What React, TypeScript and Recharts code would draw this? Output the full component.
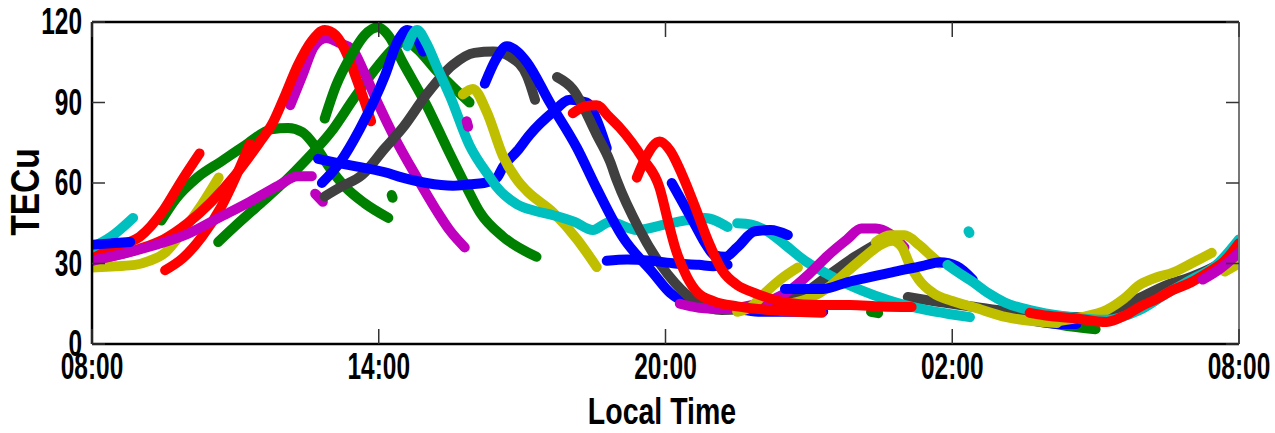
import { Line, LineChart, XAxis, YAxis } from "recharts";

type Pt = [number, number];

// hours since 00:00 of day 1 (08:00 -> 8, next-day 08:00 -> 32)
const HOUR_TICKS = [8, 14, 20, 26, 32];
const TEC_TICKS = [0, 30, 60, 90, 120];

// one array per satellite pass: [local hour, TECu]
const yellow1: Pt[] = [[8.0, 28.5], [8.5, 29], [8.9, 29.5], [9.2, 31], [9.53, 34], [9.9, 42], [10.3, 52], [10.65, 62]];
const yellow2: Pt[] = [[15.76, 93], [15.97, 95], [16.26, 86.5], [16.6, 70], [16.9, 61], [17.1, 57], [17.65, 49], [18.15, 39], [18.56, 28.7]];
const yellow3: Pt[] = [[21.5, 12], [21.8, 14], [22.08, 19], [22.4, 24], [22.77, 28.5]];
const yellow4: Pt[] = [[22.6, 15], [23.0, 17], [23.4, 21], [23.8, 27], [24.2, 33], [24.5, 37], [24.75, 38.5], [24.95, 36], [25.1, 30], [25.3, 24], [25.6, 19], [26.0, 16], [26.43, 13.8], [27.14, 10], [28.19, 7.8]];
const yellow5: Pt[] = [[24.4, 38], [24.7, 40.5], [25.0, 40.5], [25.3, 37], [25.55, 33], [25.74, 30]];
const yellow6: Pt[] = [[28.2, 8.5], [28.7, 10], [29.23, 12.7], [29.6, 17], [29.92, 22], [30.3, 25], [30.6, 26.5], [31.0, 30], [31.43, 34]];
const yellow7: Pt[] = [[31.7, 27], [32.0, 30]];

const green1: Pt[] = [[9.45, 46], [9.75, 54], [10.2, 62], [10.7, 68], [11.2, 74], [11.75, 80], [12.1, 80.5], [12.4, 79], [12.7, 73], [13.0, 65], [13.3, 58.5], [13.7, 52.5], [14.2, 47]];
const green2: Pt[] = [[10.64, 38], [11.0, 44], [11.5, 52], [12.0, 60], [12.5, 69], [13.0, 79], [13.5, 92], [14.0, 104], [14.3, 110], [14.55, 113], [14.8, 110], [15.2, 102], [15.6, 95], [15.9, 90]];
const green3: Pt[] = [[12.87, 84], [13.1, 96], [13.44, 108], [13.7, 115], [13.98, 118], [14.2, 115], [14.5, 105], [15.0, 89], [15.43, 73], [15.85, 58], [16.12, 49], [16.6, 40], [17.3, 32.5]];
const green4: Pt[] = [[14.27, 55.5], [14.29, 54.5]];
const green5: Pt[] = [[24.3, 12], [24.45, 11.5]];
const green6: Pt[] = [[28.0, 8], [28.5, 6.5], [29.0, 5.5]];

const magenta1: Pt[] = [[8.0, 31], [8.5, 33], [9.25, 36.5], [10.0, 41], [10.65, 47], [11.3, 53], [11.9, 59], [12.3, 62.5], [12.6, 62.5]];
const magenta2: Pt[] = [[12.15, 89], [12.4, 100], [12.65, 111], [12.9, 114], [13.2, 112], [13.44, 110], [13.7, 101], [14.0, 89], [14.3, 78], [14.8, 62], [15.2, 50], [15.5, 42], [15.8, 36]];
const magenta3: Pt[] = [[12.67, 56], [12.83, 53]];
const magenta4: Pt[] = [[15.84, 83], [15.87, 81]];
const magenta5: Pt[] = [[20.3, 15], [20.7, 13.5], [21.2, 13], [21.8, 14.5], [22.3, 17], [22.6, 20], [23.0, 26], [23.4, 33], [23.8, 39], [24.1, 43], [24.4, 43], [24.7, 41], [25.0, 36]];
const magenta6: Pt[] = [[31.24, 24], [31.6, 28], [32.0, 34]];

const red1: Pt[] = [[8.0, 34], [8.5, 36.5], [9.0, 40], [9.5, 50], [9.88, 61], [10.25, 71]];
const red2: Pt[] = [[8.0, 31.5], [8.5, 33], [9.0, 35.5], [9.5, 39], [10.0, 45], [10.5, 53], [11.0, 63], [11.5, 75], [11.77, 82], [12.0, 91], [12.31, 104], [12.6, 113], [12.87, 117], [13.1, 115], [13.36, 107], [13.55, 98], [13.71, 90], [13.84, 83]];
const red3: Pt[] = [[9.53, 27.5], [9.9, 32], [10.3, 40], [10.7, 51], [11.0, 62], [11.3, 74.5]];
const red4: Pt[] = [[18.06, 86], [18.3, 88.5], [18.56, 89], [18.8, 85], [19.05, 80.5], [19.53, 69], [19.88, 58], [20.05, 46], [20.2, 36], [20.45, 25], [20.68, 19], [21.0, 16], [21.5, 14], [22.3, 12.5], [23.27, 11.6]];
const red5: Pt[] = [[19.4, 62], [19.6, 70], [19.88, 75.5], [20.1, 72], [20.35, 63], [20.6, 52], [20.9, 38], [21.18, 27.6], [21.5, 22], [21.87, 19], [22.56, 15.3], [23.2, 14.5], [23.86, 14.5], [24.5, 14], [25.15, 13.8]];
const red6: Pt[] = [[27.62, 11.6], [28.0, 10.5], [28.52, 9.7], [29.23, 8.2], [29.6, 10.5], [29.92, 13.8], [30.3, 17], [30.6, 20], [31.0, 23], [31.33, 26.5], [31.7, 31], [32.0, 37.6]];

const blue1: Pt[] = [[8.0, 37], [8.4, 37.5], [8.8, 38]];
const blue2: Pt[] = [[12.81, 60], [13.2, 68], [13.6, 80], [14.13, 100], [14.4, 113], [14.6, 117], [14.8, 114], [14.93, 109]];
const blue3: Pt[] = [[12.73, 69], [13.0, 68], [13.44, 66.5], [14.13, 64], [14.5, 62], [15.0, 60], [15.55, 59], [15.9, 59.5], [16.2, 60], [16.47, 62], [16.6, 66], [16.9, 72], [17.16, 78], [17.65, 86.5], [18.0, 91], [18.35, 90], [18.55, 84], [18.77, 73]];
const blue4: Pt[] = [[16.22, 97], [16.45, 106], [16.68, 111], [16.9, 109], [17.1, 105], [17.58, 90], [18.15, 73], [18.56, 58], [19.1, 40], [19.74, 26.5], [20.1, 19], [20.5, 15], [21.0, 13.5], [21.5, 13], [22.0, 12], [22.5, 12], [23.3, 12]];
const blue5: Pt[] = [[20.13, 60], [20.35, 53], [20.6, 45], [20.85, 37], [21.03, 33], [21.25, 32.5], [21.5, 36], [21.87, 42], [22.2, 42.5], [22.56, 40.6]];
const blue6: Pt[] = [[18.77, 31], [19.2, 31.5], [19.7, 31], [20.2, 30], [20.7, 29.5], [21.0, 29], [21.3, 29.5]];
const blue7: Pt[] = [[22.5, 20.5], [23.3, 20.5], [23.8, 23], [24.3, 25], [24.8, 27], [25.36, 29], [25.74, 30.5], [26.1, 29], [26.43, 24]];
const blue8: Pt[] = [[27.6, 9], [28.2, 7.5], [28.6, 7.5]];

const cyan1: Pt[] = [[8.0, 36], [8.4, 40], [8.86, 47]];
const cyan2: Pt[] = [[14.6, 111], [14.8, 117], [15.0, 112], [15.2, 104], [15.5, 92], [15.9, 74], [16.33, 62], [16.47, 58.5], [16.9, 52], [17.3, 49.5], [17.65, 48], [18.1, 45.5], [18.48, 42.5], [18.84, 45.5], [19.4, 42.5], [20.1, 45], [20.82, 47], [21.3, 43.6]];
const cyan3: Pt[] = [[21.5, 45], [21.8, 44.5], [22.08, 42.5], [22.5, 37], [22.92, 31], [23.3, 27], [23.6, 24], [24.1, 20], [24.65, 16.4], [25.5, 12.5], [26.0, 11], [26.37, 10]];
const cyan4: Pt[] = [[25.9, 29.5], [26.1, 27], [26.4, 23.5], [26.75, 19], [27.1, 15.5], [27.8, 12], [28.5, 10], [29.2, 9], [29.9, 12.5], [30.5, 19], [31.0, 24], [31.5, 29], [32.0, 39]];
const cyan5: Pt[] = [[26.34, 42], [26.36, 41.4]];

const gray1: Pt[] = [[12.87, 55], [13.2, 58.5], [13.65, 63], [14.13, 73], [14.5, 80.5], [15.0, 93], [15.55, 104], [16.0, 108.5], [16.4, 109], [16.75, 107], [17.1, 100], [17.27, 91]];
const gray2: Pt[] = [[17.73, 99.5], [18.06, 95], [18.56, 78], [18.84, 68], [18.98, 61], [19.46, 42.5], [19.88, 30], [20.2, 22.7], [20.68, 15.3], [21.18, 12.7], [21.87, 13.4], [22.43, 15.3], [22.9, 19], [23.48, 26.5], [23.96, 32.5], [24.38, 37]];
const gray3: Pt[] = [[25.07, 17.5], [25.6, 16], [26.4, 14], [27.2, 12], [28.0, 10.5], [28.7, 10], [29.3, 12], [29.9, 17], [30.5, 22], [31.0, 25], [31.5, 29], [32.0, 35]];

const RED = "#ff0000";
const BLUE = "#0000ff";
const GREEN = "#008000";
const MAGENTA = "#bf00bf";
const CYAN = "#00bfbf";
const YELLOW = "#bfbf00";
const GRAY = "#404040";

// drawing order: first entry ends up at the bottom
const TRACKS: { id: string; color: string; pts: Pt[] }[] = [
  { id: "gray3", color: GRAY, pts: gray3 },
  { id: "green5", color: GREEN, pts: green5 },
  { id: "green6", color: GREEN, pts: green6 },
  { id: "blue8", color: BLUE, pts: blue8 },
  { id: "yellow1", color: YELLOW, pts: yellow1 },
  { id: "green1", color: GREEN, pts: green1 },
  { id: "green2", color: GREEN, pts: green2 },
  { id: "magenta2", color: MAGENTA, pts: magenta2 },
  { id: "red1", color: RED, pts: red1 },
  { id: "red3", color: RED, pts: red3 },
  { id: "red2", color: RED, pts: red2 },
  { id: "magenta1", color: MAGENTA, pts: magenta1 },
  { id: "magenta3", color: MAGENTA, pts: magenta3 },
  { id: "green4", color: GREEN, pts: green4 },
  { id: "green3", color: GREEN, pts: green3 },
  { id: "gray1", color: GRAY, pts: gray1 },
  { id: "blue2", color: BLUE, pts: blue2 },
  { id: "blue3", color: BLUE, pts: blue3 },
  { id: "yellow2", color: YELLOW, pts: yellow2 },
  { id: "cyan2", color: CYAN, pts: cyan2 },
  { id: "magenta4", color: MAGENTA, pts: magenta4 },
  { id: "blue4", color: BLUE, pts: blue4 },
  { id: "gray2", color: GRAY, pts: gray2 },
  { id: "cyan1", color: CYAN, pts: cyan1 },
  { id: "blue1", color: BLUE, pts: blue1 },
  { id: "cyan3", color: CYAN, pts: cyan3 },
  { id: "magenta5", color: MAGENTA, pts: magenta5 },
  { id: "yellow3", color: YELLOW, pts: yellow3 },
  { id: "blue6", color: BLUE, pts: blue6 },
  { id: "blue5", color: BLUE, pts: blue5 },
  { id: "yellow4", color: YELLOW, pts: yellow4 },
  { id: "yellow5", color: YELLOW, pts: yellow5 },
  { id: "blue7", color: BLUE, pts: blue7 },
  { id: "red4", color: RED, pts: red4 },
  { id: "red5", color: RED, pts: red5 },
  { id: "cyan5", color: CYAN, pts: cyan5 },
  { id: "yellow6", color: YELLOW, pts: yellow6 },
  { id: "yellow7", color: YELLOW, pts: yellow7 },
  { id: "cyan4", color: CYAN, pts: cyan4 },
  { id: "red6", color: RED, pts: red6 },
  { id: "magenta6", color: MAGENTA, pts: magenta6 },
];

const W = 1275;
const H = 433;
// plot box: x 92..1239, y 22..344
const PLOT = { left: 92, right: 1239, top: 22, bottom: 344 };
const X_AXIS_H = 60;
const Y_AXIS_W = 60;
const MARGIN = {
  top: PLOT.top - 1,
  right: W - PLOT.right - 1,
  bottom: H - PLOT.bottom - X_AXIS_H,
  left: PLOT.left - Y_AXIS_W,
};
// no narrow Helvetica available, so squeeze Liberation Sans horizontally
const FONT = '"Liberation Sans", Arial, sans-serif';
const SQUEEZE = 0.68;

const hourLabel = (h: number) => `${String(h % 24).padStart(2, "0")}:00`;

function HourTick({ x, payload }: any) {
  return (
    <g>
      <line x1={x} x2={x} y1={PLOT.bottom} y2={PLOT.bottom - 15} stroke="#333" strokeWidth={1.5} />
      <line x1={x} x2={x} y1={PLOT.top} y2={PLOT.top + 15} stroke="#333" strokeWidth={1.5} />
      <text
        transform={`translate(${x},${PLOT.bottom + 35}) scale(${SQUEEZE},1)`}
        textAnchor="middle"
        fontFamily={FONT}
        fontWeight="bold"
        fontSize={36}
        fill="#000"
      >
        {hourLabel(payload.value)}
      </text>
    </g>
  );
}

function TecTick({ y, payload }: any) {
  return (
    <g>
      <line x1={PLOT.left} x2={PLOT.left + 13} y1={y} y2={y} stroke="#333" strokeWidth={1.5} />
      <line x1={PLOT.right} x2={PLOT.right - 13} y1={y} y2={y} stroke="#333" strokeWidth={1.5} />
      <text
        transform={`translate(${PLOT.left - 10},${y + 12}) scale(${SQUEEZE},1)`}
        textAnchor="end"
        fontFamily={FONT}
        fontWeight="bold"
        fontSize={36}
        fill="#000"
      >
        {payload.value}
      </text>
    </g>
  );
}

export default function App() {
  return (
    <div style={{ position: "absolute", left: 0, top: 0, width: W, height: H, background: "#fff" }}>
      <LineChart width={W} height={H} margin={MARGIN}>
        <XAxis
          dataKey="t"
          type="number"
          domain={[8, 32]}
          ticks={HOUR_TICKS}
          allowDataOverflow
          height={X_AXIS_H}
          tickSize={0}
          tickMargin={0}
          tick={<HourTick />}
          interval={0}
          axisLine={{ stroke: "#000", strokeWidth: 2.5 }}
          tickLine={false}
        />
        <XAxis
          xAxisId="top"
          orientation="top"
          type="number"
          domain={[8, 32]}
          height={1}
          tick={false}
          tickLine={false}
          axisLine={{ stroke: "#000", strokeWidth: 2.5 }}
        />
        <YAxis
          type="number"
          domain={[0, 120]}
          ticks={TEC_TICKS}
          allowDataOverflow
          width={Y_AXIS_W}
          tickSize={0}
          tickMargin={0}
          tick={<TecTick />}
          interval={0}
          axisLine={{ stroke: "#000", strokeWidth: 2.5 }}
          tickLine={false}
        />
        <YAxis
          yAxisId="right"
          orientation="right"
          type="number"
          domain={[0, 120]}
          width={1}
          tick={false}
          tickLine={false}
          axisLine={{ stroke: "#777", strokeWidth: 2 }}
        />
        {TRACKS.map((tr) => (
          <Line
            key={tr.id}
            data={tr.pts.map(([t, v]) => ({ t, v }))}
            dataKey="v"
            type="monotone"
            stroke={tr.color}
            strokeWidth={10}
            strokeLinecap="round"
            strokeLinejoin="round"
            dot={false}
            activeDot={false}
            isAnimationActive={false}
          />
        ))}
      </LineChart>
      <div
        style={{
          position: "absolute",
          left: 662,
          top: 395,
          transform: "translateX(-50%) scaleX(0.77)",
          fontFamily: FONT,
          fontWeight: "bold",
          fontSize: 37,
          lineHeight: "33px",
          whiteSpace: "nowrap",
          color: "#000",
        }}
      >
        Local Time
      </div>
      <div
        style={{
          position: "absolute",
          left: 25,
          top: 192,
          transform: "translate(-50%, -50%) rotate(-90deg) scaleX(0.84)",
          fontFamily: FONT,
          fontWeight: "bold",
          fontSize: 40,
          lineHeight: "40px",
          whiteSpace: "nowrap",
          color: "#000",
        }}
      >
        TECu
      </div>
    </div>
  );
}
